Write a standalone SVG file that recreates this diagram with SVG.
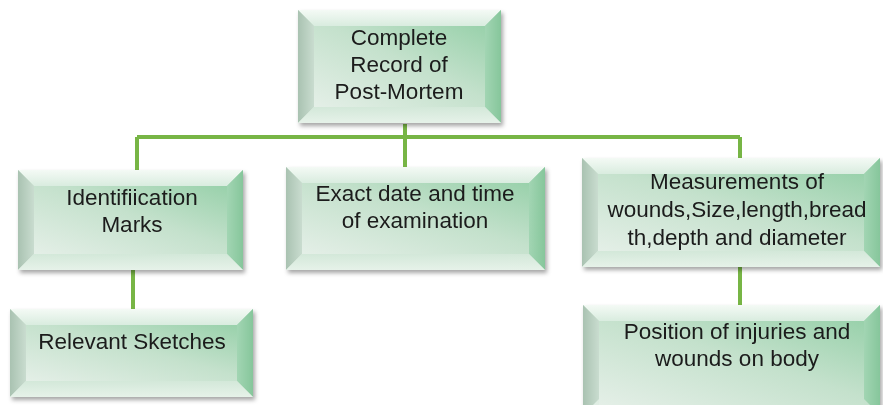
<svg xmlns="http://www.w3.org/2000/svg" width="883" height="405" viewBox="0 0 883 405">
<defs>
<linearGradient id="face" x1="0" y1="1" x2="1" y2="0">
<stop offset="0" stop-color="#e4efe7"/>
<stop offset="0.55" stop-color="#c4e1cc"/>
<stop offset="1" stop-color="#99d1ab"/>
</linearGradient>
<linearGradient id="topb" x1="0" y1="0" x2="0" y2="1">
<stop offset="0" stop-color="#f4faf5"/>
<stop offset="1" stop-color="#d9ecdf"/>
</linearGradient>
<linearGradient id="leftb" x1="0" y1="0" x2="1" y2="0">
<stop offset="0" stop-color="#a9c2b1"/>
<stop offset="1" stop-color="#c9dccf"/>
</linearGradient>
<linearGradient id="rightb" x1="0" y1="0" x2="1" y2="0">
<stop offset="0" stop-color="#a2d5b3"/>
<stop offset="1" stop-color="#86c69b"/>
</linearGradient>
<linearGradient id="botb" x1="0" y1="0" x2="0" y2="1">
<stop offset="0" stop-color="#d3e8d9"/>
<stop offset="1" stop-color="#e6f2e9"/>
</linearGradient>
<filter id="sh" x="-10%" y="-10%" width="125%" height="130%">
<feDropShadow dx="2" dy="3" stdDeviation="2" flood-color="#000" flood-opacity="0.35"/>
</filter>
</defs>
<style>
.t{font-family:"Liberation Sans","DejaVu Sans",sans-serif;font-size:22.5px;fill:#1a1a1a;text-anchor:middle}
.c{stroke:#77b545;stroke-width:4;fill:none}
</style>
<g id="connectors">
<path class="c" d="M405,124 V137 M137,137 H740 M137,137 V170 M405,137 V167 M740,137 V158 M133,270 V309 M740,267 V305"/>
</g>
<g id="n1" filter="url(#sh)">
<rect x="298" y="10" width="203" height="113" fill="url(#face)"/>
<polygon points="298,10 501,10 485,26 314,26" fill="url(#topb)"/>
<polygon points="298,10 314,26 314,107 298,123" fill="url(#leftb)"/>
<polygon points="501,10 501,123 485,107 485,26" fill="url(#rightb)"/>
<polygon points="298,123 314,107 485,107 501,123" fill="url(#botb)"/>
<rect x="314" y="26" width="171" height="81" fill="url(#face)"/>
<text class="t" x="399" y="45">Complete</text>
<text class="t" x="399" y="72">Record of</text>
<text class="t" x="399" y="99">Post-Mortem</text>
</g>
<g id="n2" filter="url(#sh)">
<rect x="18" y="170" width="225" height="100" fill="url(#face)"/>
<polygon points="18,170 243,170 227,186 34,186" fill="url(#topb)"/>
<polygon points="18,170 34,186 34,254 18,270" fill="url(#leftb)"/>
<polygon points="243,170 243,270 227,254 227,186" fill="url(#rightb)"/>
<polygon points="18,270 34,254 227,254 243,270" fill="url(#botb)"/>
<rect x="34" y="186" width="193" height="68" fill="url(#face)"/>
<text class="t" x="132" y="205">Identifiication</text>
<text class="t" x="132" y="232">Marks</text>
</g>
<g id="n3" filter="url(#sh)">
<rect x="286" y="167" width="259" height="103" fill="url(#face)"/>
<polygon points="286,167 545,167 529,183 302,183" fill="url(#topb)"/>
<polygon points="286,167 302,183 302,254 286,270" fill="url(#leftb)"/>
<polygon points="545,167 545,270 529,254 529,183" fill="url(#rightb)"/>
<polygon points="286,270 302,254 529,254 545,270" fill="url(#botb)"/>
<rect x="302" y="183" width="227" height="71" fill="url(#face)"/>
<text class="t" x="415" y="201">Exact date and time</text>
<text class="t" x="415" y="228">of examination</text>
</g>
<g id="n4" filter="url(#sh)">
<rect x="582" y="158" width="298" height="109" fill="url(#face)"/>
<polygon points="582,158 880,158 864,174 598,174" fill="url(#topb)"/>
<polygon points="582,158 598,174 598,251 582,267" fill="url(#leftb)"/>
<polygon points="880,158 880,267 864,251 864,174" fill="url(#rightb)"/>
<polygon points="582,267 598,251 864,251 880,267" fill="url(#botb)"/>
<rect x="598" y="174" width="266" height="77" fill="url(#face)"/>
<text class="t" x="737" y="189">Measurements of</text>
<text class="t" x="737" y="217">wounds,Size,length,bread</text>
<text class="t" x="737" y="245">th,depth and diameter</text>
</g>
<g id="n5" filter="url(#sh)">
<rect x="10" y="309" width="243" height="88" fill="url(#face)"/>
<polygon points="10,309 253,309 237,325 26,325" fill="url(#topb)"/>
<polygon points="10,309 26,325 26,381 10,397" fill="url(#leftb)"/>
<polygon points="253,309 253,397 237,381 237,325" fill="url(#rightb)"/>
<polygon points="10,397 26,381 237,381 253,397" fill="url(#botb)"/>
<rect x="26" y="325" width="211" height="56" fill="url(#face)"/>
<text class="t" x="132" y="349">Relevant Sketches</text>
</g>
<g id="n6" filter="url(#sh)">
<rect x="583" y="305" width="297" height="110" fill="url(#face)"/>
<polygon points="583,305 880,305 864,321 599,321" fill="url(#topb)"/>
<polygon points="583,305 599,321 599,399 583,415" fill="url(#leftb)"/>
<polygon points="880,305 880,415 864,399 864,321" fill="url(#rightb)"/>
<rect x="599" y="321" width="265" height="84" fill="url(#face)"/>
<text class="t" x="737" y="339">Position of injuries and</text>
<text class="t" x="737" y="366">wounds on body</text>
</g>
</svg>
